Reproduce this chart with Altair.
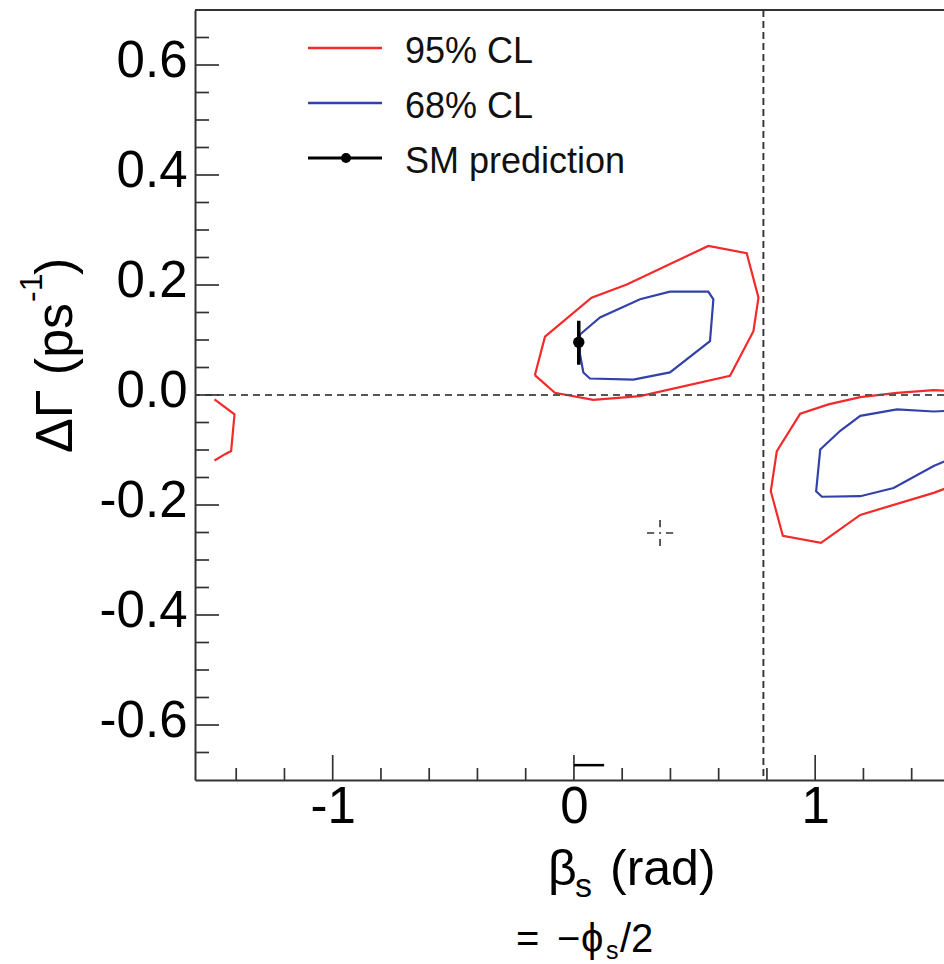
import math
import altair as alt
import pandas as pd

# ---------------- data ----------------
x_major = [-1, 0, 1]
x_minor = [-1.4, -1.2, -0.8, -0.6, -0.4, -0.2, 0.2, 0.4, 0.6, 0.8, 1.2, 1.4]
y_major = [-0.6, -0.4, -0.2, 0.0, 0.2, 0.4, 0.6]
y_minor = [-0.65, -0.55, -0.5, -0.45, -0.35, -0.3, -0.25, -0.15, -0.1, -0.05,
           0.05, 0.1, 0.15, 0.25, 0.3, 0.35, 0.45, 0.5, 0.55, 0.65]

x_domain = [-math.pi / 2, 1.534]
y_domain = [-0.7, 0.7]

# 95% CL contours (beta_s, DeltaGamma)
c95_main_beta = [-0.162, -0.120, 0.073, 0.219, 0.557, 0.716, 0.765, 0.744, 0.647, 0.274, 0.080, -0.079, -0.162]
c95_main_dg = [0.036, 0.106, 0.177, 0.201, 0.271, 0.258, 0.177, 0.116, 0.035, -0.002, -0.009, 0.004, 0.036]
c95_right_beta = [1.54, 1.491, 1.339, 1.187, 1.055, 0.938, 0.841, 0.816, 0.866, 1.024, 1.187, 1.491, 1.54]
c95_right_dg = [0.008, 0.009, 0.004, -0.004, -0.017, -0.034, -0.102, -0.175, -0.256, -0.269, -0.218, -0.178, -0.170]
c95_left_beta = [-1.490, -1.407, -1.421, -1.448, -1.490]
c95_left_dg = [-0.008, -0.035, -0.102, -0.108, -0.119]

# 68% CL contours
c68_main_beta = [0.025, 0.108, 0.274, 0.398, 0.557, 0.578, 0.564, 0.398, 0.246, 0.066, 0.039, 0.025, 0.025]
c68_main_dg = [0.110, 0.141, 0.174, 0.188, 0.188, 0.174, 0.098, 0.041, 0.028, 0.030, 0.041, 0.074, 0.110]
c68_right_beta = [1.54, 1.491, 1.339, 1.187, 1.104, 1.021, 1.004, 1.028, 1.187, 1.325, 1.491, 1.54]
c68_right_dg = [-0.029, -0.030, -0.026, -0.038, -0.065, -0.099, -0.175, -0.185, -0.184, -0.169, -0.129, -0.120]

# SM prediction
sm_beta = [0.02]
sm_dg = [0.096]
sm_dg_lo = [0.055]
sm_dg_hi = [0.135]

# marker near the axis
mark_beta_lo = [0.0]
mark_beta_hi = [0.125]
mark_dg = [-0.673]

# best-fit crosshair
best_beta = [0.357]
best_dg = [-0.251]

# reference lines
zero_dg = [0.0]
quarter_pi = [math.pi / 4]

legend_labels = ["95% CL", "68% CL", "SM prediction"]
levels = ["95% CL", "68% CL"]
level_colors = ["#f22a2a", "#3342a8"]

# ---------------- build tables ----------------
rows = []
def add(name, level, bs, dgs):
    for i, (b, d) in enumerate(zip(bs, dgs)):
        rows.append({"seg": name, "level": level, "i": i, "beta": b, "dg": d})

add("95main", "95% CL", c95_main_beta, c95_main_dg)
add("95right", "95% CL", c95_right_beta, c95_right_dg)
add("95left", "95% CL", c95_left_beta, c95_left_dg)
add("68main", "68% CL", c68_main_beta, c68_main_dg)
add("68right", "68% CL", c68_right_beta, c68_right_dg)
contours = pd.DataFrame(rows)

W, H = 749, 770
FONT = "Liberation Sans"

xscale = alt.Scale(domain=x_domain, zero=False, nice=False)
yscale = alt.Scale(domain=y_domain, zero=False, nice=False)
neg_label = "(datum.value < 0 ? '-' : '') + format(abs(datum.value), '%s')"
xaxis = alt.Axis(values=x_major, labelExpr=neg_label % ".0f", ticks=False, tickSize=0,
                 grid=False, title=None, domainColor="#333333", domainWidth=2,
                 labelFont=FONT, labelFontSize=51, labelColor="black", labelPadding=2)
yaxis = alt.Axis(values=y_major, labelExpr=neg_label % ".1f", ticks=False, tickSize=0,
                 grid=False, title=None, domainColor="#333333", domainWidth=2,
                 labelFont=FONT, labelFontSize=51, labelColor="black", labelPadding=8,
                 labelOffset=-4)

def X(f):
    return alt.X(f, type="quantitative", scale=xscale, axis=xaxis)

def Y(f):
    return alt.Y(f, type="quantitative", scale=yscale, axis=yaxis)

one = pd.DataFrame({"k": [0]})

layers = []

# contours
layers.append(
    alt.Chart(contours).mark_line(strokeWidth=2.2, clip=True).encode(
        x=X("beta"), y=Y("dg"), detail="seg:N", order="i:Q",
        color=alt.Color("level:N", scale=alt.Scale(domain=levels, range=level_colors), legend=None),
    )
)

# dashed reference lines
layers.append(
    alt.Chart(pd.DataFrame({"dg": zero_dg})).mark_rule(color="#555555", strokeWidth=2, strokeDash=[7, 5]).encode(y=Y("dg"))
)
layers.append(
    alt.Chart(pd.DataFrame({"beta": quarter_pi})).mark_rule(color="#333333", strokeWidth=1.9, strokeDash=[7, 4]).encode(x=X("beta"))
)

# inward ticks
layers.append(
    alt.Chart(pd.DataFrame({"v": y_major})).mark_rule(color="#333333", strokeWidth=1.7).encode(
        y=Y("v"), x=alt.value(0), x2=alt.value(24))
)
layers.append(
    alt.Chart(pd.DataFrame({"v": y_minor})).mark_rule(color="#333333", strokeWidth=1.7).encode(
        y=Y("v"), x=alt.value(0), x2=alt.value(14))
)
layers.append(
    alt.Chart(pd.DataFrame({"v": x_major})).mark_rule(color="#333333", strokeWidth=1.7).encode(
        x=X("v"), y=alt.value(H - 25), y2=alt.value(H))
)
layers.append(
    alt.Chart(pd.DataFrame({"v": x_minor})).mark_rule(color="#333333", strokeWidth=1.7).encode(
        x=X("v"), y=alt.value(H - 12), y2=alt.value(H))
)

# top frame line
layers.append(
    alt.Chart(one).mark_rule(color="#333333", strokeWidth=2).encode(
        x=alt.value(0), x2=alt.value(W), y=alt.value(0))
)

# SM prediction
sm = pd.DataFrame({"beta": sm_beta, "dg": sm_dg, "lo": sm_dg_lo, "hi": sm_dg_hi})
layers.append(
    alt.Chart(sm).mark_rule(color="black", strokeWidth=3.5).encode(x=X("beta"), y=Y("lo"), y2="hi")
)
layers.append(
    alt.Chart(sm).mark_circle(color="black", size=130, opacity=1).encode(x=X("beta"), y=Y("dg"))
)

# marker near the axis
mk = pd.DataFrame({"lo": mark_beta_lo, "hi": mark_beta_hi, "dg": mark_dg})
layers.append(
    alt.Chart(mk).mark_rule(color="black", strokeWidth=2.5).encode(x=X("lo"), x2="hi", y=Y("dg"))
)

# best-fit crosshair
cross_path = "M-1,0L-0.45,0M0.45,0L1,0M0,-1L0,-0.45M0,0.45L0,1M-0.08,0L0.08,0"
layers.append(
    alt.Chart(pd.DataFrame({"beta": best_beta, "dg": best_dg})).mark_point(
        shape=cross_path, size=680, filled=False, color="#333333", strokeWidth=1.6, opacity=1
    ).encode(x=X("beta"), y=Y("dg"))
)

# legend (manual, inside the frame)
leg_y = [38, 93, 148]
leg_colors = [level_colors[0], level_colors[1], "black"]
for lbl, yy, col in zip(legend_labels, leg_y, leg_colors):
    layers.append(
        alt.Chart(one).mark_rule(color=col, strokeWidth=2.6 if col != "black" else 3).encode(
            x=alt.value(113), x2=alt.value(187), y=alt.value(yy))
    )
    layers.append(
        alt.Chart(pd.DataFrame({"t": [lbl]})).mark_text(
            font=FONT, fontSize=36, align="left", baseline="alphabetic", color="#111111"
        ).encode(text="t:N", x=alt.value(210), y=alt.value(yy + 15))
    )
layers.append(
    alt.Chart(one).mark_circle(color="black", size=100, opacity=1).encode(x=alt.value(151), y=alt.value(148))
)

# titles (pieces, to render sub/superscripts)
def txt(t, x, y, size, angle=0):
    kw = dict(font=FONT, fontSize=size, align="left", baseline="alphabetic", color="black")
    if angle:
        kw["angle"] = angle
    return alt.Chart(pd.DataFrame({"t": [t]})).mark_text(**kw).encode(
        text="t:N", x=alt.value(x), y=alt.value(y))

ox, oy = 195, 10  # page origin of plot area
x_title = ["β", "s", "(rad)"]
layers.append(txt(x_title[0], 548 - ox, 885 - oy, 50))
layers.append(txt(x_title[1], 575 - ox, 897 - oy, 34))
layers.append(txt(x_title[2], 610 - ox, 885 - oy, 50))

sub_title = ["=", "−", "ϕ", "s", "/2"]
layers.append(txt(sub_title[0], 516 - ox, 952 - oy, 40))
layers.append(txt(sub_title[1], 557 - ox, 952 - oy, 40))
layers.append(txt(sub_title[2], 581 - ox, 952 - oy, 40))
layers.append(txt(sub_title[3], 606 - ox, 959 - oy, 25))
layers.append(txt(sub_title[4], 620 - ox, 952 - oy, 40))

y_title = ["ΔΓ (ps", "-1", ")"]
layers.append(txt(y_title[0], 72 - ox, 453 - oy, 52, angle=270))
layers.append(txt(y_title[1], 42 - ox, 302 - oy, 32, angle=270))
layers.append(txt(y_title[2], 72 - ox, 275 - oy, 52, angle=270))

chart = alt.layer(*layers).properties(
    width=W, height=H,
    autosize=alt.AutoSizeParams(type="none"),
    padding={"left": ox, "top": oy, "right": 0, "bottom": 964 - oy - H},
    background="white",
).configure_view(strokeWidth=0)

chart.save("out.html", embed_options={"renderer": "svg", "actions": False})
